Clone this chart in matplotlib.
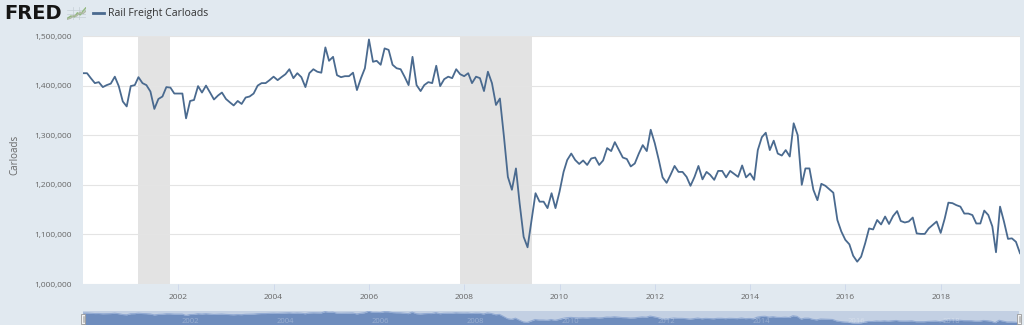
import matplotlib
matplotlib.use("Agg")
import matplotlib.pyplot as plt
import matplotlib.transforms as mtransforms
from matplotlib.lines import Line2D
from matplotlib.patches import Rectangle
from matplotlib.ticker import FuncFormatter
import numpy as np
import pandas as pd

plt.rcParams['font.family'] = ['Open Sans', 'DejaVu Sans']

# Rail freight carloads, monthly, in thousands
y2000 = [1425, 1425, 1415, 1405, 1407, 1397, 1401, 1404, 1418, 1399, 1368, 1358]
y2001 = [1399, 1401, 1417, 1405, 1401, 1388, 1353, 1373, 1378, 1397, 1396, 1384]
y2002 = [1384, 1384, 1334, 1369, 1371, 1399, 1386, 1400, 1386, 1372, 1380, 1386]
y2003 = [1373, 1366, 1360, 1369, 1363, 1376, 1378, 1384, 1400, 1405, 1405, 1411]
y2004 = [1418, 1411, 1417, 1423, 1433, 1415, 1425, 1417, 1397, 1425, 1433, 1428]
y2005 = [1426, 1477, 1450, 1458, 1421, 1417, 1419, 1419, 1426, 1391, 1415, 1435]
y2006 = [1493, 1448, 1450, 1442, 1475, 1472, 1442, 1435, 1433, 1418, 1401, 1458]
y2007 = [1401, 1389, 1401, 1407, 1405, 1440, 1399, 1413, 1418, 1415, 1433, 1423]
y2008 = [1419, 1425, 1405, 1418, 1415, 1389, 1428, 1405, 1361, 1374, 1297, 1216]
y2009 = [1190, 1233, 1163, 1095, 1074, 1129, 1183, 1166, 1166, 1153, 1183, 1153]
y2010 = [1186, 1226, 1250, 1263, 1250, 1242, 1249, 1240, 1253, 1255, 1240, 1249]
y2011 = [1274, 1268, 1286, 1270, 1255, 1252, 1237, 1243, 1263, 1280, 1268, 1311]
y2012 = [1284, 1250, 1215, 1204, 1220, 1238, 1226, 1226, 1216, 1198, 1216, 1238]
y2013 = [1211, 1226, 1220, 1210, 1228, 1228, 1215, 1228, 1222, 1216, 1239, 1215]
y2014 = [1223, 1210, 1270, 1296, 1305, 1270, 1289, 1263, 1259, 1270, 1257, 1324]
y2015 = [1300, 1200, 1233, 1233, 1190, 1169, 1202, 1198, 1191, 1184, 1129, 1106]
y2016 = [1089, 1080, 1057, 1045, 1055, 1082, 1112, 1110, 1129, 1120, 1136, 1121]
y2017 = [1137, 1147, 1127, 1124, 1126, 1134, 1102, 1101, 1101, 1112, 1119, 1126]
y2018 = [1103, 1132, 1164, 1163, 1159, 1156, 1142, 1142, 1139, 1122, 1122, 1148]
y2019 = [1139, 1116, 1064, 1156, 1126, 1091, 1092, 1085, 1062]

carloads = np.array(y2000 + y2001 + y2002 + y2003 + y2004 + y2005 + y2006 +
                    y2007 + y2008 + y2009 + y2010 + y2011 + y2012 + y2013 +
                    y2014 + y2015 + y2016 + y2017 + y2018 + y2019) * 1000
dates = pd.date_range('2000-01-01', periods=len(carloads), freq='MS')

# NBER recession periods
recessions = [('2001-03-01', '2001-11-01'), ('2007-12-01', '2009-06-01')]

y_ticks = [1000000, 1100000, 1200000, 1300000, 1400000, 1500000]
x_tick_years = [2002, 2004, 2006, 2008, 2010, 2012, 2014, 2016, 2018]
series_name = 'Rail Freight Carloads'
y_title = 'Carloads'

BG = '#e1e9f0'
LINE = '#4a6a8f'
TICK_TXT = '#666666'

W, H = 1024, 325
fig = plt.figure(figsize=(W / 100, H / 100), dpi=100, facecolor=BG)


def box(x0, y0, x1, y1):
    """Pixel box (top-left origin) to figure fraction rect."""
    return [x0 / W, 1 - y1 / H, (x1 - x0) / W, (y1 - y0) / H]


# ---- main plot ----
ax = fig.add_axes(box(83, 36, 1020, 284))
ax.set_facecolor('white')
for s in ax.spines.values():
    s.set_visible(False)

ax.plot(dates, carloads, color=LINE, lw=1.3, zorder=3, solid_joinstyle='round')
for a, b in recessions:
    ax.axvspan(pd.Timestamp(a), pd.Timestamp(b), color='#e3e3e3', lw=0, zorder=0.5)

ax.set_xlim(dates[0], dates[-1])
ax.set_ylim(y_ticks[0], y_ticks[-1])
ax.set_yticks(y_ticks)
ax.yaxis.set_major_formatter(FuncFormatter(lambda v, p: f'{int(v):,}'))
ax.grid(axis='y', color='#e4e4e4', lw=0.8, zorder=1)
ax.set_axisbelow(True)
ax.tick_params(axis='y', length=0, pad=8, labelsize=6, labelcolor=TICK_TXT)

xticks = [pd.Timestamp(f'{y}-01-01') for y in x_tick_years]
ax.set_xticks(xticks)
ax.set_xticklabels([str(y) for y in x_tick_years])
ax.tick_params(axis='x', length=4, width=0.6, color='#ccd6eb', pad=3,
               labelsize=6, labelcolor=TICK_TXT)

fig.text(15 / W, 1 - 155 / H, y_title, rotation=90, ha='center', va='center',
         fontsize=7, color=TICK_TXT)

# ---- navigator ----
nav = fig.add_axes(box(83, 311, 1019, 325))
nav.set_facecolor('#c3d0e3')
for s in nav.spines.values():
    s.set_visible(False)
nav.fill_between(dates, carloads, 0, color='#6f8dbd', lw=0)
nav.plot(dates, carloads, color='#93abd3', lw=0.8)
nav.set_xlim(dates[0], dates[-1])
nav.set_ylim(979000, 1500000)
nav.set_xticks([])
nav.set_yticks([])
lbl_tr = mtransforms.offset_copy(nav.get_xaxis_transform(), fig=fig, x=3, y=0, units='dots')
for yr in x_tick_years:
    nav.text(pd.Timestamp(f'{yr}-01-01'), 0.25, str(yr), transform=lbl_tr,
             fontsize=5.5, color='white', alpha=0.3, ha='left', va='center')

# navigator handles
for hx in (81, 1017):
    fig.add_artist(Rectangle((hx / W, 1 - 324 / H), 4 / W, 10 / H,
                             transform=fig.transFigure, facecolor='#f2f2f2',
                             edgecolor='#9a9a9a', lw=0.6))
    for dx in (1.5, 2.5):
        fig.add_artist(Line2D([(hx + dx) / W] * 2, [1 - 322 / H, 1 - 316 / H],
                              transform=fig.transFigure, color='#9a9a9a', lw=0.4))

# ---- header ----
fig.text(4 / W, 1 - 13.5 / H, 'FRED', fontsize=14, fontweight='bold',
         family='DejaVu Sans', color='#151515', va='center', ha='left')

icon = fig.add_axes(box(67, 7, 86, 20))
icon.set_facecolor('none')
for s in icon.spines.values():
    s.set_visible(False)
icon.set_xticks([])
icon.set_yticks([])
icon.set_xlim(0, 10)
icon.set_ylim(0, 10)
for gy in (2, 5, 8):
    icon.axhline(gy, color='#c5ced6', lw=0.5)
for gx in (3, 6.5):
    icon.axvline(gx, color='#c5ced6', lw=0.5)
icon.plot([0, 2, 4, 5.5, 7, 8.5, 10], [1, 3, 2.5, 5.5, 4, 7, 9.5], color='#93b981', lw=1.1)
icon.plot([0, 2, 3.5, 5, 7, 8.5, 10], [0.5, 1.5, 3.5, 3, 6, 5, 7], color='#b0b8a6', lw=1.0)

fig.add_artist(Line2D([93 / W, 104 / W], [1 - 13.3 / H] * 2,
                      transform=fig.transFigure, color=LINE, lw=2))
fig.text(108 / W, 1 - 13.3 / H, series_name, fontsize=7.6, color='#333333',
         va='center', ha='left')

fig.savefig('out.png', dpi=100, facecolor=BG)
